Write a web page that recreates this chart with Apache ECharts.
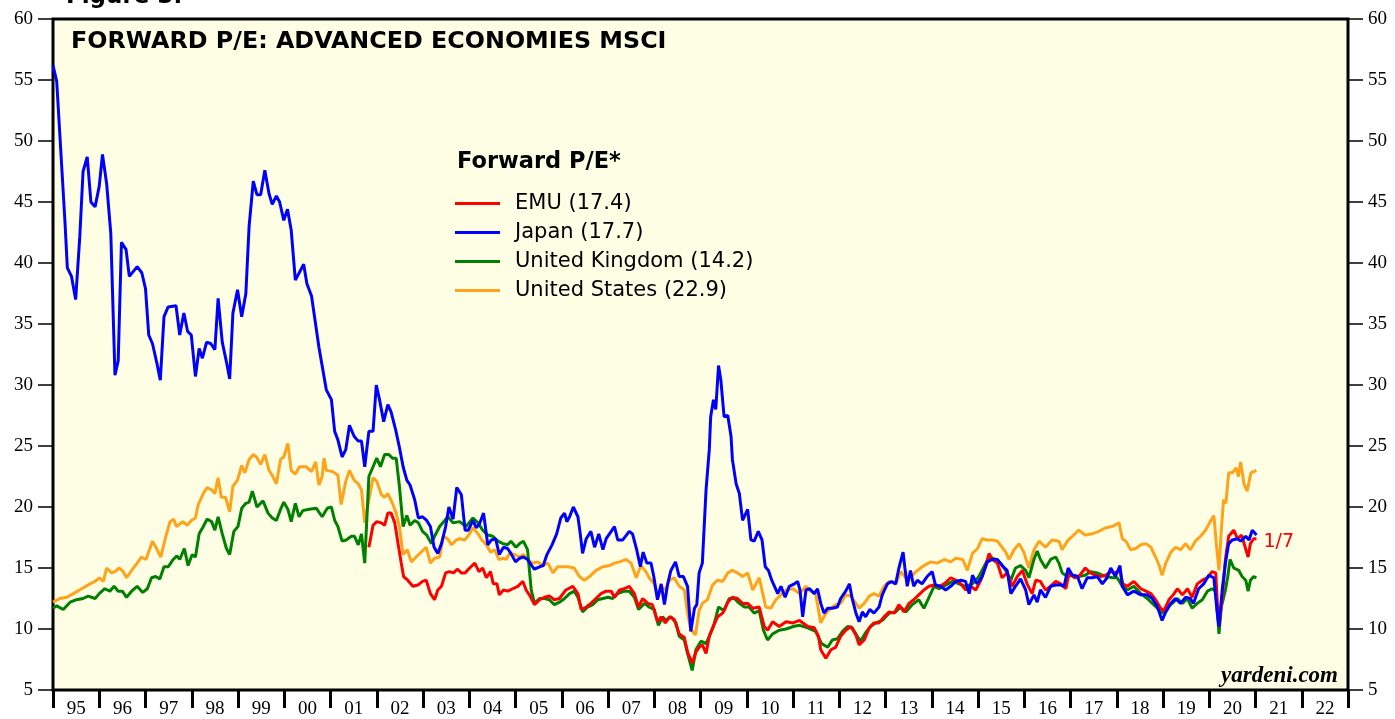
<!DOCTYPE html>
<html>
<head>
<meta charset="utf-8">
<script src="https://cdn.jsdelivr.net/npm/echarts@6/dist/echarts.min.js"></script>
<style>
  html, body { margin: 0; padding: 0; background: #fff; }
  #chart { width: 1395px; height: 719px; }
</style>
</head>
<body>
<div id="chart"></div>
<script>
// 年份标签（每个刻度区间一个）
var years = ['95','96','97','98','99','00','01','02','03','04','05','06','07','08','09','10','11','12','13','14','15','16','17','18','19','20','21','22'];

// 各系列数据: [年份(小数), 预期市盈率]
var emu = [[2001.83,16.7],[2001.92,18.5],[2002.0,18.8],[2002.10,18.7],[2002.17,18.5],[2002.24,19.5],[2002.31,19.5],[2002.39,18.7],[2002.46,17.0],[2002.53,15.4],[2002.58,14.3],[2002.67,14.0],[2002.78,13.5],[2002.89,13.6],[2002.99,13.9],[2003.07,14.0],[2003.16,12.9],[2003.25,12.4],[2003.32,13.2],[2003.40,13.5],[2003.49,14.6],[2003.57,14.7],[2003.66,14.6],[2003.74,14.9],[2003.83,14.6],[2003.91,14.6],[2004.01,15.0],[2004.12,15.4],[2004.21,14.7],[2004.29,15.0],[2004.37,14.2],[2004.46,14.7],[2004.52,13.7],[2004.60,13.7],[2004.65,12.8],[2004.74,13.2],[2004.83,13.1],[2004.94,13.3],[2005.05,13.5],[2005.16,13.9],[2005.23,13.2],[2005.30,12.8],[2005.41,12.0],[2005.52,12.4],[2005.63,12.6],[2005.73,12.7],[2005.84,12.4],[2005.95,12.5],[2006.09,13.2],[2006.24,13.5],[2006.35,12.9],[2006.42,11.6],[2006.53,11.8],[2006.63,12.1],[2006.74,12.5],[2006.85,12.9],[2006.96,13.1],[2007.07,13.1],[2007.14,12.6],[2007.25,13.2],[2007.35,13.3],[2007.46,13.5],[2007.57,12.9],[2007.66,11.8],[2007.75,12.5],[2007.86,12.1],[2007.96,12.0],[2008.07,10.6],[2008.15,11.0],[2008.24,10.5],[2008.33,11.0],[2008.43,10.8],[2008.54,9.6],[2008.65,9.3],[2008.72,8.1],[2008.82,7.2],[2008.90,8.1],[2008.97,8.5],[2009.04,8.7],[2009.12,8.0],[2009.19,9.4],[2009.26,10.1],[2009.37,11.0],[2009.48,11.3],[2009.59,12.2],[2009.69,12.6],[2009.80,12.5],[2009.91,12.1],[2010.02,12.1],[2010.13,11.7],[2010.27,11.8],[2010.38,10.2],[2010.45,9.9],[2010.56,10.6],[2010.70,10.2],[2010.85,10.6],[2011.0,10.5],[2011.14,10.7],[2011.32,10.2],[2011.46,10.1],[2011.55,9.4],[2011.60,8.3],[2011.71,7.6],[2011.82,8.3],[2011.92,8.5],[2012.03,9.4],[2012.14,9.9],[2012.25,10.2],[2012.36,9.5],[2012.43,8.7],[2012.54,9.1],[2012.65,10.1],[2012.75,10.5],[2012.86,10.5],[2012.97,11.0],[2013.08,11.4],[2013.19,11.3],[2013.29,12.0],[2013.40,11.4],[2013.51,12.1],[2013.61,12.4],[2013.72,12.8],[2013.83,13.2],[2013.94,13.5],[2014.05,13.6],[2014.16,13.5],[2014.27,13.7],[2014.41,14.2],[2014.52,14.0],[2014.63,13.7],[2014.73,13.2],[2014.84,13.5],[2014.95,13.2],[2015.06,14.0],[2015.16,15.1],[2015.24,16.2],[2015.31,15.7],[2015.42,15.4],[2015.52,14.2],[2015.63,14.6],[2015.74,13.5],[2015.85,14.3],[2015.96,14.8],[2016.06,13.7],[2016.17,12.9],[2016.25,14.0],[2016.35,13.9],[2016.46,13.2],[2016.57,13.5],[2016.68,13.9],[2016.79,13.7],[2016.90,13.3],[2016.97,14.6],[2017.08,14.2],[2017.18,14.3],[2017.32,15.0],[2017.43,14.6],[2017.54,14.4],[2017.65,14.3],[2017.76,14.4],[2017.87,14.7],[2017.97,14.6],[2018.07,14.8],[2018.13,13.7],[2018.23,13.5],[2018.37,13.9],[2018.52,13.3],[2018.63,13.1],[2018.74,12.9],[2018.84,12.4],[2018.95,11.7],[2019.02,11.5],[2019.13,12.4],[2019.24,12.9],[2019.31,13.3],[2019.42,12.8],[2019.53,13.3],[2019.63,12.6],[2019.74,13.7],[2019.85,14.0],[2019.96,14.2],[2020.06,14.7],[2020.14,14.6],[2020.19,11.0],[2020.21,10.2],[2020.28,12.6],[2020.35,15.7],[2020.42,17.6],[2020.53,18.1],[2020.61,17.4],[2020.70,17.7],[2020.77,16.8],[2020.84,15.9],[2020.89,17.0],[2020.96,17.4],[2021.02,17.4]];

var japan = [[1995.0,56.2],[1995.08,54.9],[1995.26,43.3],[1995.31,39.6],[1995.40,38.9],[1995.49,37.0],[1995.58,42.2],[1995.65,47.5],[1995.74,48.7],[1995.82,45.0],[1995.91,44.6],[1996.0,46.3],[1996.07,48.9],[1996.16,46.5],[1996.25,42.4],[1996.34,30.8],[1996.41,32.0],[1996.48,41.7],[1996.58,41.1],[1996.65,38.9],[1996.82,39.7],[1996.92,39.2],[1997.0,37.9],[1997.07,34.1],[1997.15,33.4],[1997.24,31.9],[1997.32,30.4],[1997.40,35.6],[1997.49,36.4],[1997.66,36.5],[1997.74,34.1],[1997.83,35.9],[1997.91,34.4],[1997.99,34.1],[1998.08,30.7],[1998.16,33.0],[1998.23,32.2],[1998.32,33.5],[1998.41,33.4],[1998.50,32.9],[1998.57,37.1],[1998.66,33.5],[1998.75,31.9],[1998.82,30.5],[1998.89,35.9],[1998.99,37.8],[1999.08,35.6],[1999.17,37.5],[1999.24,43.0],[1999.33,46.7],[1999.41,45.6],[1999.49,45.6],[1999.58,47.6],[1999.67,45.7],[1999.74,44.8],[1999.83,45.5],[1999.90,45.0],[1999.99,43.5],[2000.07,44.4],[2000.15,42.7],[2000.24,38.6],[2000.42,39.9],[2000.49,38.3],[2000.59,37.3],[2000.75,33.1],[2000.91,29.6],[2001.02,28.8],[2001.09,26.2],[2001.16,25.5],[2001.25,24.1],[2001.33,24.7],[2001.41,26.7],[2001.51,25.8],[2001.60,25.4],[2001.67,25.4],[2001.74,23.3],[2001.83,26.2],[2001.92,26.2],[2001.99,30.0],[2002.06,28.8],[2002.15,27.0],[2002.24,28.4],[2002.31,27.8],[2002.41,26.3],[2002.49,24.9],[2002.57,23.3],[2002.65,22.2],[2002.72,21.8],[2002.82,20.6],[2002.90,19.1],[2002.99,19.2],[2003.08,18.9],[2003.16,18.4],[2003.24,16.7],[2003.32,16.2],[2003.40,17.0],[2003.49,18.4],[2003.56,20.0],[2003.65,19.0],[2003.73,21.6],[2003.83,21.0],[2003.91,18.1],[2003.98,18.1],[2004.08,18.9],[2004.15,18.3],[2004.22,18.6],[2004.31,19.5],[2004.40,16.9],[2004.48,17.3],[2004.57,17.4],[2004.65,16.1],[2004.74,16.7],[2004.83,16.6],[2004.90,16.2],[2005.0,15.5],[2005.09,15.8],[2005.17,15.9],[2005.26,15.7],[2005.35,15.2],[2005.41,14.9],[2005.52,15.1],[2005.60,15.2],[2005.68,16.1],[2005.79,16.9],[2005.89,17.8],[2005.98,19.1],[2006.06,19.5],[2006.11,18.8],[2006.17,19.2],[2006.25,20.0],[2006.35,19.2],[2006.40,17.8],[2006.45,16.2],[2006.53,17.4],[2006.63,18.0],[2006.71,16.7],[2006.80,17.8],[2006.89,16.5],[2006.96,17.4],[2007.07,18.0],[2007.14,18.4],[2007.21,17.3],[2007.32,17.3],[2007.46,18.0],[2007.53,17.8],[2007.62,16.5],[2007.70,15.1],[2007.76,16.3],[2007.84,15.4],[2007.93,15.4],[2007.99,14.3],[2008.07,12.4],[2008.15,13.7],[2008.22,12.0],[2008.29,13.7],[2008.36,14.8],[2008.46,15.5],[2008.54,14.3],[2008.63,14.3],[2008.72,13.5],[2008.79,9.8],[2008.87,11.7],[2008.92,12.0],[2008.97,14.6],[2009.04,15.4],[2009.12,21.4],[2009.19,24.7],[2009.22,27.4],[2009.28,28.8],[2009.33,28.0],[2009.39,31.6],[2009.44,30.4],[2009.51,27.4],[2009.59,27.5],[2009.66,25.8],[2009.69,23.9],[2009.77,21.9],[2009.84,21.1],[2009.91,18.9],[2010.02,19.8],[2010.09,17.3],[2010.16,17.2],[2010.25,18.0],[2010.33,17.3],[2010.40,15.1],[2010.47,14.8],[2010.54,14.0],[2010.67,12.9],[2010.74,13.5],[2010.83,12.6],[2010.92,13.5],[2011.03,13.7],[2011.10,13.9],[2011.15,13.2],[2011.21,11.0],[2011.28,13.2],[2011.36,13.3],[2011.46,12.9],[2011.53,13.3],[2011.60,12.1],[2011.67,11.3],[2011.75,11.7],[2011.85,11.7],[2011.96,11.8],[2012.03,12.5],[2012.14,13.1],[2012.22,13.7],[2012.28,12.5],[2012.36,11.3],[2012.43,10.6],[2012.50,11.4],[2012.57,11.0],[2012.66,11.6],[2012.75,11.3],[2012.86,11.8],[2012.93,12.8],[2013.04,13.7],[2013.13,13.9],[2013.22,13.7],[2013.29,15.0],[2013.38,16.3],[2013.42,15.0],[2013.47,13.5],[2013.54,14.8],[2013.61,13.5],[2013.69,14.0],[2013.79,13.7],[2013.90,14.3],[2014.01,14.7],[2014.08,13.6],[2014.19,13.5],[2014.30,13.2],[2014.41,13.5],[2014.52,13.9],[2014.63,14.0],[2014.73,13.9],[2014.81,12.9],[2014.88,14.4],[2014.98,13.7],[2015.09,14.3],[2015.20,15.5],[2015.31,15.7],[2015.42,15.7],[2015.52,15.2],[2015.63,14.8],[2015.71,12.9],[2015.81,13.5],[2015.92,14.1],[2016.03,13.2],[2016.10,12.0],[2016.21,12.8],[2016.28,12.2],[2016.35,13.2],[2016.46,12.6],[2016.57,13.5],[2016.68,13.6],[2016.79,13.6],[2016.86,13.5],[2016.95,15.0],[2017.04,14.4],[2017.15,14.3],[2017.25,13.3],[2017.36,14.2],[2017.47,14.2],[2017.58,14.3],[2017.69,13.7],[2017.79,14.2],[2017.87,15.0],[2017.97,14.3],[2018.07,15.2],[2018.12,13.5],[2018.23,12.8],[2018.37,13.1],[2018.52,12.8],[2018.66,12.8],[2018.77,12.5],[2018.88,11.8],[2018.98,10.7],[2019.06,11.4],[2019.17,12.1],[2019.27,12.5],[2019.38,12.1],[2019.49,12.6],[2019.59,12.5],[2019.66,12.1],[2019.77,13.3],[2019.88,13.7],[2019.99,14.4],[2020.10,14.2],[2020.17,11.4],[2020.21,10.2],[2020.28,13.2],[2020.35,15.4],[2020.42,17.0],[2020.50,17.3],[2020.61,17.4],[2020.68,17.2],[2020.79,17.6],[2020.86,17.3],[2020.93,18.1],[2021.0,17.8],[2021.02,17.7]];

var uk = [[1995.0,11.7],[1995.08,11.9],[1995.22,11.6],[1995.37,12.2],[1995.51,12.4],[1995.65,12.5],[1995.76,12.7],[1995.91,12.5],[1996.0,12.9],[1996.12,13.3],[1996.23,13.1],[1996.32,13.5],[1996.41,13.1],[1996.50,13.1],[1996.59,12.6],[1996.70,13.1],[1996.82,13.5],[1996.94,13.0],[1997.04,13.3],[1997.13,14.2],[1997.22,14.3],[1997.31,14.1],[1997.40,15.1],[1997.49,15.1],[1997.60,15.7],[1997.68,16.0],[1997.74,15.7],[1997.84,16.6],[1997.92,15.2],[1998.01,16.1],[1998.08,15.9],[1998.16,17.8],[1998.25,18.4],[1998.33,19.0],[1998.43,18.8],[1998.50,18.1],[1998.57,19.2],[1998.66,17.8],[1998.75,16.6],[1998.82,16.1],[1998.91,18.0],[1999.0,18.4],[1999.08,19.9],[1999.17,20.3],[1999.24,20.4],[1999.31,21.3],[1999.41,20.0],[1999.54,20.5],[1999.65,19.5],[1999.74,19.1],[1999.83,18.9],[1999.92,19.8],[1999.99,20.4],[2000.08,19.8],[2000.15,18.8],[2000.24,20.3],[2000.32,19.2],[2000.40,19.7],[2000.51,19.8],[2000.69,19.9],[2000.82,19.2],[2000.93,19.9],[2001.02,20.0],[2001.09,18.9],[2001.16,18.4],[2001.25,17.2],[2001.34,17.3],[2001.45,17.6],[2001.52,17.6],[2001.60,16.9],[2001.67,17.8],[2001.74,15.4],[2001.83,22.5],[2001.92,23.3],[2002.0,24.0],[2002.08,23.3],[2002.17,24.3],[2002.26,24.3],[2002.34,24.0],[2002.42,24.0],[2002.49,21.7],[2002.57,18.4],[2002.65,19.3],[2002.72,18.5],[2002.82,18.9],[2002.90,18.7],[2002.99,18.0],[2003.08,17.7],[2003.18,17.0],[2003.25,17.6],[2003.36,18.4],[2003.47,18.9],[2003.54,19.2],[2003.65,18.7],[2003.79,18.8],[2003.93,18.4],[2004.08,19.1],[2004.19,18.7],[2004.29,18.1],[2004.40,17.7],[2004.51,17.6],[2004.62,17.2],[2004.73,17.0],[2004.83,16.9],[2004.90,17.2],[2005.01,16.7],[2005.09,17.0],[2005.17,17.2],[2005.26,16.5],[2005.34,13.2],[2005.41,12.1],[2005.52,12.5],[2005.63,12.5],[2005.73,12.4],[2005.84,12.0],[2005.95,12.2],[2006.06,12.5],[2006.17,12.9],[2006.27,13.1],[2006.35,12.6],[2006.45,11.4],[2006.56,11.8],[2006.67,12.0],[2006.78,12.4],[2006.89,12.5],[2007.0,12.6],[2007.10,12.5],[2007.21,12.9],[2007.35,13.1],[2007.46,13.1],[2007.57,12.6],[2007.66,11.6],[2007.79,12.1],[2007.89,11.8],[2008.0,11.6],[2008.09,10.3],[2008.18,11.0],[2008.25,10.7],[2008.36,11.0],[2008.47,10.5],[2008.54,9.4],[2008.65,9.1],[2008.72,8.0],[2008.82,6.6],[2008.90,8.3],[2009.01,9.0],[2009.12,8.8],[2009.19,9.4],[2009.28,10.2],[2009.39,11.8],[2009.51,11.5],[2009.62,12.5],[2009.73,12.5],[2009.84,12.1],[2009.95,11.8],[2010.05,11.8],[2010.16,11.3],[2010.27,11.5],[2010.36,9.9],[2010.45,9.1],[2010.56,9.6],[2010.70,9.9],[2010.85,10.0],[2011.0,10.2],[2011.14,10.3],[2011.32,10.1],[2011.49,9.8],[2011.62,8.8],[2011.75,8.5],[2011.85,9.1],[2011.96,9.2],[2012.07,9.8],[2012.18,10.2],[2012.28,10.1],[2012.39,9.4],[2012.46,9.0],[2012.57,9.7],[2012.68,10.2],[2012.79,10.5],[2012.93,10.7],[2013.08,11.3],[2013.22,11.4],[2013.33,11.8],[2013.44,11.4],[2013.58,12.0],[2013.72,12.4],[2013.83,11.7],[2013.94,12.6],[2014.05,13.5],[2014.16,13.3],[2014.30,13.6],[2014.45,13.9],[2014.59,13.7],[2014.73,13.5],[2014.88,13.7],[2015.02,14.3],[2015.13,15.1],[2015.24,15.9],[2015.38,15.7],[2015.49,15.4],[2015.60,14.8],[2015.71,14.0],[2015.81,15.0],[2015.92,15.2],[2016.03,14.8],[2016.10,14.2],[2016.21,15.7],[2016.28,16.4],[2016.35,15.7],[2016.46,15.0],[2016.57,15.7],[2016.68,15.9],[2016.75,15.4],[2016.82,14.6],[2016.93,14.3],[2017.04,14.4],[2017.18,14.3],[2017.32,14.4],[2017.43,14.7],[2017.58,14.6],[2017.69,14.4],[2017.79,14.3],[2017.90,14.2],[2018.01,14.2],[2018.12,13.5],[2018.23,13.2],[2018.37,13.5],[2018.52,12.9],[2018.66,12.5],[2018.77,12.1],[2018.88,11.7],[2018.98,11.3],[2019.09,11.8],[2019.20,12.1],[2019.31,12.5],[2019.42,12.1],[2019.53,12.5],[2019.63,11.7],[2019.74,12.1],[2019.85,12.4],[2019.96,13.1],[2020.06,13.3],[2020.14,13.1],[2020.19,10.7],[2020.21,9.6],[2020.26,11.8],[2020.35,13.2],[2020.40,14.3],[2020.45,15.7],[2020.53,15.0],[2020.64,14.8],[2020.71,14.3],[2020.79,14.0],[2020.84,13.1],[2020.89,14.0],[2020.96,14.3],[2021.02,14.2]];

var us = [[1995.0,12.2],[1995.15,12.5],[1995.30,12.6],[1995.44,12.9],[1995.62,13.3],[1995.80,13.7],[1995.91,13.9],[1996.0,14.2],[1996.09,13.9],[1996.16,15.0],[1996.27,14.6],[1996.34,14.7],[1996.43,15.0],[1996.52,14.7],[1996.59,14.2],[1996.70,14.8],[1996.82,15.4],[1996.91,15.9],[1997.01,15.7],[1997.15,17.2],[1997.24,16.6],[1997.33,15.9],[1997.44,17.6],[1997.53,18.8],[1997.61,19.0],[1997.67,18.4],[1997.81,18.8],[1997.90,18.5],[1997.99,18.9],[1998.08,19.1],[1998.14,20.2],[1998.25,21.1],[1998.33,21.6],[1998.43,21.4],[1998.50,21.1],[1998.57,22.4],[1998.64,20.8],[1998.73,20.8],[1998.82,19.6],[1998.89,21.7],[1998.99,22.2],[1999.08,23.4],[1999.15,22.8],[1999.24,23.9],[1999.33,24.3],[1999.40,24.1],[1999.49,23.5],[1999.58,24.3],[1999.67,23.0],[1999.74,22.6],[1999.83,21.9],[1999.92,23.9],[1999.99,24.1],[2000.08,25.2],[2000.15,23.0],[2000.24,22.7],[2000.33,23.3],[2000.47,23.3],[2000.59,22.9],[2000.68,23.7],[2000.75,21.8],[2000.82,22.5],[2000.86,24.0],[2000.91,23.0],[2001.05,22.9],[2001.16,22.6],[2001.23,20.2],[2001.33,22.1],[2001.41,23.0],[2001.51,22.2],[2001.60,21.9],[2001.67,21.4],[2001.74,18.7],[2001.83,20.6],[2001.92,22.4],[2002.0,22.1],[2002.10,21.0],[2002.17,20.8],[2002.24,21.1],[2002.34,20.3],[2002.42,19.5],[2002.49,18.4],[2002.57,16.1],[2002.66,16.5],[2002.75,15.5],[2002.85,15.9],[2002.96,16.3],[2003.07,16.7],[2003.16,15.4],[2003.25,15.8],[2003.36,15.9],[2003.44,17.6],[2003.53,17.4],[2003.62,16.9],[2003.72,17.3],[2003.80,17.4],[2003.90,17.3],[2003.99,17.7],[2004.08,18.3],[2004.19,17.8],[2004.27,17.3],[2004.37,16.9],[2004.46,16.3],[2004.55,16.5],[2004.64,15.7],[2004.73,15.8],[2004.80,15.7],[2004.87,16.2],[2004.98,16.1],[2005.09,15.9],[2005.17,16.1],[2005.26,15.7],[2005.37,15.4],[2005.48,15.5],[2005.59,15.2],[2005.70,15.4],[2005.81,14.6],[2005.91,15.1],[2006.02,15.1],[2006.13,15.1],[2006.27,15.0],[2006.38,14.3],[2006.49,14.0],[2006.60,14.3],[2006.74,14.8],[2006.89,15.1],[2007.03,15.2],[2007.14,15.4],[2007.25,15.5],[2007.39,15.7],[2007.50,15.4],[2007.61,14.2],[2007.71,15.2],[2007.82,14.7],[2007.89,14.2],[2008.0,13.7],[2008.07,12.6],[2008.15,13.5],[2008.24,13.2],[2008.33,14.0],[2008.43,14.2],[2008.54,13.5],[2008.65,13.2],[2008.72,11.3],[2008.79,10.0],[2008.89,9.5],[2008.97,11.5],[2009.04,12.1],[2009.15,12.4],[2009.26,13.6],[2009.37,14.0],[2009.48,13.9],[2009.59,14.6],[2009.69,14.8],[2009.80,14.6],[2009.91,14.3],[2010.02,14.6],[2010.13,13.2],[2010.27,14.2],[2010.41,11.8],[2010.52,11.7],[2010.63,12.4],[2010.74,12.8],[2010.85,13.2],[2011.0,13.3],[2011.14,12.9],[2011.28,13.5],[2011.38,13.1],[2011.49,12.9],[2011.60,10.5],[2011.71,11.3],[2011.82,11.7],[2011.92,12.0],[2012.03,12.1],[2012.14,12.8],[2012.25,12.7],[2012.36,12.1],[2012.43,11.7],[2012.54,12.1],[2012.65,12.7],[2012.75,12.9],[2012.86,12.7],[2012.97,13.5],[2013.08,13.9],[2013.22,13.7],[2013.33,14.7],[2013.44,14.2],[2013.58,14.4],[2013.69,14.8],[2013.83,15.2],[2013.98,15.5],[2014.12,15.4],[2014.27,15.7],[2014.41,15.5],[2014.52,15.8],[2014.67,15.7],[2014.77,14.8],[2014.88,16.2],[2014.99,16.6],[2015.09,17.4],[2015.20,17.3],[2015.31,17.3],[2015.42,17.2],[2015.52,16.7],[2015.60,16.3],[2015.67,15.7],[2015.78,16.5],[2015.89,17.0],[2015.99,16.3],[2016.10,15.0],[2016.21,16.5],[2016.32,17.2],[2016.46,16.7],[2016.60,17.3],[2016.75,17.2],[2016.82,16.5],[2016.93,17.2],[2017.04,17.6],[2017.18,18.1],[2017.32,17.7],[2017.47,17.8],[2017.61,18.0],[2017.76,18.3],[2017.90,18.4],[2018.05,18.7],[2018.12,17.4],[2018.20,17.2],[2018.30,16.5],[2018.41,16.6],[2018.52,16.9],[2018.63,17.0],[2018.74,16.7],[2018.84,15.9],[2018.92,15.2],[2018.98,14.4],[2019.06,15.4],[2019.17,16.3],[2019.27,16.7],[2019.38,16.5],[2019.49,17.0],[2019.59,16.5],[2019.70,17.2],[2019.81,17.6],[2019.92,18.1],[2020.02,18.8],[2020.10,19.3],[2020.16,16.7],[2020.21,14.8],[2020.26,18.1],[2020.31,20.6],[2020.36,20.3],[2020.42,22.8],[2020.50,22.8],[2020.58,23.2],[2020.63,22.5],[2020.68,23.7],[2020.75,21.9],[2020.82,21.3],[2020.90,22.8],[2020.96,22.9],[2021.02,23.0]];

var serif = '"Liberation Serif", "Times New Roman", serif';
var sans = '"DejaVu Sans", "Liberation Sans", sans-serif';

var chart = echarts.init(document.getElementById('chart'));

var option = {
    backgroundColor: '#ffffff',
    animation: false,
    //大标题
    title: {
        text: 'FORWARD P/E: ADVANCED ECONOMIES MSCI',
        left: 66,
        top: 25,
        textStyle: { fontFamily: sans, fontWeight: 'bold', fontSize: 23.8, color: '#000' }
    },
    //图例
    legend: {
        orient: 'vertical',
        left: 450,
        top: 188,
        icon: 'rect',
        itemWidth: 45,
        itemHeight: 3,
        itemGap: 8,
        textStyle: { fontFamily: sans, fontSize: 21, color: '#000', padding: [0, 0, 0, 10] },
        data: ['EMU (17.4)', 'Japan (17.7)', 'United Kingdom (14.2)', 'United States (22.9)']
    },
    grid: {
        left: 53, right: 47, top: 19, bottom: 29,
        show: true,
        backgroundColor: '#fefee4',
        borderColor: '#000',
        borderWidth: 3
    },
    xAxis: [{
        // 数据用的数值轴(隐藏)
        type: 'value',
        min: 1995,
        max: 2023,
        show: false
    }, {
        // 年份标签与刻度
        type: 'category',
        data: years,
        boundaryGap: true,
        position: 'bottom',
        axisLine: { show: false },
        axisTick: { show: true, interval: 0, length: 18, lineStyle: { color: '#000', width: 3 } },
        axisLabel: { interval: 0, margin: 10, fontFamily: serif, fontSize: 19, color: '#000' },
        splitLine: { show: false }
    }],
    yAxis: [{
        type: 'value',
        min: 5, max: 60, interval: 5,
        position: 'left',
        axisLine: { show: false },
        axisTick: { show: true, length: 15, lineStyle: { color: '#000', width: 1.5 } },
        axisLabel: { margin: 20, fontFamily: serif, fontSize: 19, color: '#000' },
        splitLine: { show: false }
    }, {
        type: 'value',
        min: 5, max: 60, interval: 5,
        position: 'right',
        axisLine: { show: false },
        axisTick: { show: true, length: 15, lineStyle: { color: '#000', width: 1.5 } },
        axisLabel: { margin: 20, fontFamily: serif, fontSize: 19, color: '#000' },
        splitLine: { show: false }
    }],
    graphic: [{
        type: 'text', left: 66, top: -14,
        style: { text: 'Figure 3.', fontFamily: sans, fontWeight: 'bold', fontSize: 23, fill: '#000' }
    }, {
        type: 'text', left: 457, top: 151,
        style: { text: 'Forward P/E*', fontFamily: sans, fontWeight: 'bold', fontSize: 22.5, fill: '#000' }
    }, {
        type: 'text', right: 57, top: 665,
        style: { text: 'yardeni.com', fontFamily: serif, fontWeight: 'bold', fontStyle: 'italic', fontSize: 23, fill: '#000' }
    }],
    series: [{
        name: 'United States (22.9)',
        type: 'line',
        data: us,
        showSymbol: false,
        color: '#ffa31a',
        lineStyle: { width: 3 }
    }, {
        name: 'United Kingdom (14.2)',
        type: 'line',
        data: uk,
        showSymbol: false,
        color: '#008000',
        lineStyle: { width: 3 }
    }, {
        name: 'EMU (17.4)',
        type: 'line',
        data: emu,
        showSymbol: false,
        color: '#ff0000',
        lineStyle: { width: 3 },
        endLabel: {
            show: true,
            formatter: '1/7',
            distance: 7,
            offset: [0, 3],
            color: '#ff0000',
            fontFamily: sans,
            fontSize: 19
        }
    }, {
        name: 'Japan (17.7)',
        type: 'line',
        data: japan,
        showSymbol: false,
        color: '#0000ff',
        lineStyle: { width: 3 }
    }]
};

chart.setOption(option);
</script>
</body>
</html>
